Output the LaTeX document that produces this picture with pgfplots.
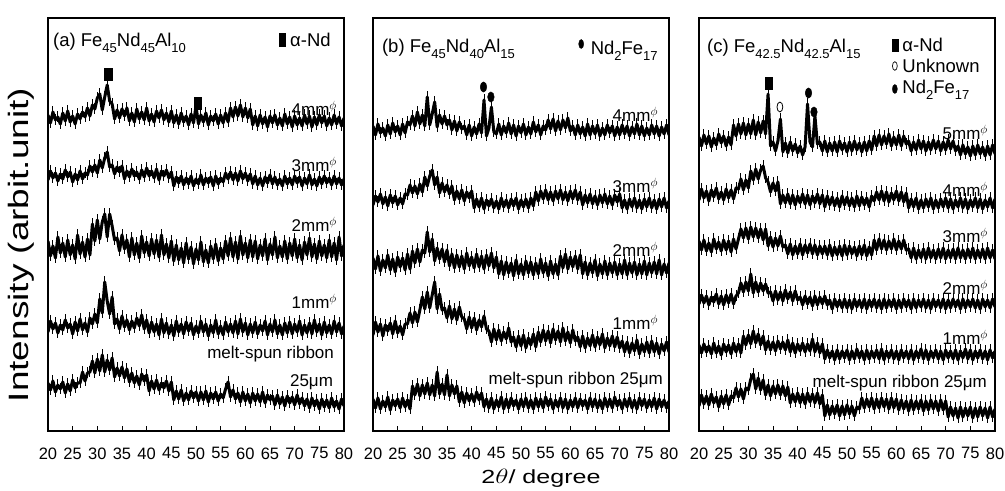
\documentclass[border=0pt]{standalone}
\usepackage{fontspec}
\setmainfont{Liberation Sans}
\usepackage{graphicx}
\usepackage{pgfplots}
\pgfplotsset{compat=1.18}
\usepackage{pgfplotstable}

% y values are in "pixels above the axis floor"
\pgfplotstableread{
x a4 a3 a2 a1 a0
20.0 317 252 191 100 49
20.5 309 261 176 111 42
21.0 320 254 186 103 51
21.5 312 259 174 109 40
22.0 315 251 195 99 47
22.5 308 258 179 107 43
23.0 319 253 189 102 50
23.5 311 262 175 112 39
24.0 321 255 192 104 48
24.5 310 260 177 108 41
25.0 316 250 187 98 52
25.5 308 258 173 110 44
26.0 318 252 197 101 49
26.5 313 261 178 113 49
27.0 320 253 190 102 60
27.5 315 259 175 109 51
28.0 324 257 193 100 59
28.5 316 266 177 114 60
29.0 327 260 208 108 71
29.5 323 267 191 118 59
30.0 334 259 212 109 73
30.5 338 272 193 133 61
31.0 322 264 210 119 77
31.5 335 274 218 150 60
32.0 347 280 195 131 72
32.5 331 265 218 118 62
33.0 328 267 206 135 74
33.5 313 258 192 108 55
34.0 322 265 194 113 64
34.5 314 260 181 103 56
35.0 323 266 197 116 65
35.5 316 253 183 105 54
36.0 324 261 192 112 63
36.5 311 255 175 102 50
37.0 319 263 194 111 59
37.5 310 256 177 104 49
38.0 323 260 189 114 56
38.5 313 253 174 106 47
39.0 320 262 196 117 58
39.5 312 255 179 103 51
40.0 324 264 190 112 57
40.5 311 256 176 99 41
41.0 318 261 193 110 51
41.5 310 254 178 100 43
42.0 321 263 192 108 52
42.5 314 252 175 97 42
43.0 322 261 197 113 49
43.5 312 256 177 99 44
44.0 319 262 188 109 51
44.5 310 254 174 98 41
45.0 321 260 191 107 50
45.5 309 246 171 96 32
46.0 317 255 187 111 41
46.5 308 249 172 100 33
47.0 319 256 184 108 42
47.5 310 247 169 98 31
48.0 316 254 189 110 39
48.5 307 248 173 101 32
49.0 318 256 185 109 41
49.5 309 246 168 97 34
50.0 326 253 183 106 40
50.5 308 248 172 99 31
51.0 317 257 190 111 40
51.5 310 247 170 100 32
52.0 319 254 182 108 41
52.5 307 249 169 96 30
53.0 316 255 186 107 39
53.5 311 246 173 99 33
54.0 318 256 188 112 40
54.5 308 248 171 98 31
55.0 317 254 184 106 38
55.5 309 250 173 97 34
56.0 319 259 191 110 43
56.5 310 253 176 100 50
57.0 324 260 194 108 35
57.5 315 252 175 99 42
58.0 325 259 190 111 33
58.5 316 251 173 98 39
59.0 327 261 196 113 30
59.5 315 253 177 100 40
60.0 324 259 189 109 31
60.5 314 251 174 97 38
61.0 323 258 192 108 29
61.5 307 248 175 99 39
62.0 316 256 191 110 31
62.5 306 247 173 98 38
63.0 317 254 187 107 30
63.5 308 246 176 101 40
64.0 315 255 193 111 29
64.5 305 249 172 97 37
65.0 316 257 188 108 32
65.5 309 248 177 100 36
66.0 317 255 195 112 27
66.5 307 247 174 98 37
67.0 314 253 186 107 28
67.5 306 246 175 97 35
68.0 318 256 191 109 26
68.5 308 248 173 99 36
69.0 315 254 189 110 29
69.5 305 247 176 98 35
70.0 316 256 193 108 27
70.5 307 249 174 100 37
71.0 314 255 187 111 28
71.5 306 246 172 97 34
72.0 317 254 190 107 26
72.5 308 248 177 99 33
73.0 316 257 194 109 24
73.5 305 247 175 98 34
74.0 315 253 188 112 26
74.5 307 246 173 100 32
75.0 317 255 191 108 23
75.5 309 248 176 97 33
76.0 316 256 187 110 25
76.5 306 249 174 99 32
77.0 314 254 192 107 24
77.5 307 247 175 98 34
78.0 317 256 189 111 25
78.5 308 248 172 100 31
79.0 315 254 195 109 23
79.5 306 247 176 98 33
80.0 314 253 187 106 26
}\tabA

\pgfplotstableread{
x b4 b3 b2 b1 b0
20.0 306 227 174 97 33
20.5 297 236 163 110 24
21.0 308 230 176 100 34
21.5 299 238 161 108 23
22.0 304 228 172 96 31
22.5 296 235 164 107 25
23.0 307 226 177 101 35
23.5 298 237 162 109 22
24.0 309 229 173 98 32
24.5 300 236 160 111 26
25.0 306 227 175 99 33
25.5 297 234 165 106 24
26.0 308 228 174 97 34
26.5 299 238 162 108 25
27.0 310 237 178 108 32
27.5 307 247 163 119 23
28.0 316 239 181 109 46
28.5 306 246 169 120 37
29.0 320 238 183 110 48
29.5 308 248 170 122 36
30.0 317 240 182 135 47
30.5 306 255 179 123 38
31.0 335 246 200 140 49
31.5 307 256 180 124 37
32.0 318 262 193 137 47
32.5 330 247 171 150 36
33.0 305 255 184 123 60
33.5 317 239 173 138 38
34.0 308 249 183 122 48
34.5 316 240 170 124 37
35.0 307 247 182 114 57
35.5 312 238 166 126 36
36.0 302 246 178 113 47
36.5 311 232 164 123 38
37.0 301 241 177 112 46
37.5 310 233 165 125 30
38.0 303 242 176 115 40
38.5 306 231 163 113 29
39.0 297 240 179 103 39
39.5 307 234 166 115 31
40.0 296 241 175 104 38
40.5 305 224 164 114 30
41.0 298 233 178 102 40
41.5 308 225 165 112 32
42.0 299 234 176 105 39
42.5 332 223 163 116 25
43.0 296 232 177 103 33
43.5 304 226 166 101 24
44.0 325 233 179 90 34
44.5 300 224 164 103 23
45.0 298 231 175 92 32
45.5 308 223 158 102 25
46.0 297 234 171 91 35
46.5 306 225 157 100 23
47.0 299 232 170 93 33
47.5 309 224 159 104 24
48.0 298 233 169 90 34
48.5 307 226 156 95 26
49.0 296 234 172 85 32
49.5 306 223 158 96 23
50.0 299 232 168 86 33
50.5 308 225 157 97 25
51.0 297 233 171 84 34
51.5 305 224 159 94 24
52.0 298 234 170 87 32
52.5 310 226 157 98 23
53.0 300 240 169 85 34
53.5 307 231 158 100 25
54.0 297 241 173 90 33
54.5 306 233 159 102 24
55.0 302 242 169 91 35
55.5 312 232 156 101 26
56.0 303 240 171 89 33
56.5 313 231 158 103 23
57.0 301 241 168 92 32
57.5 311 233 157 101 25
58.0 302 242 176 90 34
58.5 312 232 164 104 24
59.0 304 240 178 91 33
59.5 314 231 163 100 23
60.0 301 241 175 89 32
60.5 306 233 165 102 25
61.0 297 242 176 91 34
61.5 307 232 163 95 24
62.0 298 240 177 85 33
62.5 305 227 158 96 26
63.0 296 237 170 84 32
63.5 308 229 157 94 23
64.0 297 238 169 86 34
64.5 306 228 159 97 25
65.0 298 236 172 85 33
65.5 307 227 156 95 24
66.0 296 237 168 87 32
66.5 304 229 158 98 23
67.0 297 238 171 84 34
67.5 307 228 157 94 25
68.0 299 236 169 86 33
68.5 306 227 159 96 24
69.0 296 237 170 85 35
69.5 305 230 157 95 26
70.0 297 238 168 84 32
70.5 307 224 158 91 23
71.0 298 232 172 80 33
71.5 306 223 157 90 25
72.0 296 233 169 79 34
72.5 305 225 159 89 24
73.0 298 234 170 81 32
73.5 308 224 157 92 23
74.0 297 232 168 78 34
74.5 306 223 158 88 26
75.0 296 233 171 80 33
75.5 304 225 157 90 24
76.0 297 234 169 79 32
76.5 307 224 159 91 25
77.0 298 232 170 80 34
77.5 306 223 158 89 23
78.0 296 233 172 78 33
78.5 305 225 157 88 25
79.0 298 234 168 81 32
79.5 307 224 159 90 24
80.0 297 231 169 80 31
}\tabB

\pgfplotstableread{
x c5 c4 c3 c2 c1 c0
20.0 295 232 191 128 87 26
20.5 286 243 182 137 79 37
21.0 297 234 192 129 88 28
21.5 288 241 181 136 80 36
22.0 296 231 189 127 86 27
22.5 285 242 180 135 78 38
23.0 294 235 193 130 89 29
23.5 287 244 183 138 79 35
24.0 298 233 190 128 86 25
24.5 289 240 181 136 77 36
25.0 296 232 192 127 88 28
25.5 286 243 182 137 80 37
26.0 295 234 191 129 87 27
26.5 287 242 180 138 78 36
27.0 307 233 193 128 89 34
27.5 296 244 183 136 80 44
28.0 308 243 193 139 88 35
28.5 298 253 203 149 79 43
29.0 309 242 194 140 96 33
29.5 297 252 204 150 87 44
30.0 308 244 193 141 97 42
30.5 298 261 205 158 88 53
31.0 312 252 195 139 101 58
31.5 297 263 204 150 89 43
32.0 310 253 194 140 98 54
32.5 299 262 203 149 87 42
33.0 311 266 192 141 96 52
33.5 298 254 203 148 82 37
34.0 338 250 186 139 91 47
34.5 286 240 195 140 82 36
35.0 290 249 185 131 90 46
35.5 281 241 194 141 81 38
36.0 291 250 186 132 91 47
36.5 313 228 196 140 83 37
37.0 280 237 185 131 90 46
37.5 289 229 187 142 82 36
38.0 279 238 178 133 92 45
38.5 290 228 188 140 80 29
39.0 281 237 177 131 89 38
39.5 288 227 186 141 79 30
40.0 279 236 178 132 88 39
40.5 286 229 188 135 81 29
41.0 277 238 177 127 89 38
41.5 285 228 187 136 80 28
42.0 328 237 179 128 88 39
42.5 290 227 188 135 81 30
43.0 285 236 178 126 93 38
43.5 316 229 187 136 80 29
44.0 288 238 177 127 89 39
44.5 290 228 186 135 79 28
45.0 281 237 178 128 88 37
45.5 291 225 186 136 73 16
46.0 280 236 177 127 82 27
46.5 289 227 187 132 74 17
47.0 281 235 176 123 81 26
47.5 290 226 185 133 72 18
48.0 280 234 177 125 82 27
48.5 291 225 186 132 73 16
49.0 282 236 176 124 81 26
49.5 289 227 187 133 74 17
50.0 280 235 177 124 82 27
50.5 290 226 186 132 72 18
51.0 281 234 178 123 81 26
51.5 291 225 185 133 73 16
52.0 282 236 176 125 83 25
52.5 289 226 186 132 74 23
53.0 280 235 177 124 81 34
53.5 290 227 187 133 72 24
54.0 281 234 176 123 82 33
54.5 291 225 185 132 73 25
55.0 282 236 177 125 81 34
55.5 296 231 192 133 74 23
56.0 286 240 182 124 82 33
56.5 297 232 193 132 73 24
57.0 287 241 183 123 83 34
57.5 296 231 192 133 72 25
58.0 288 240 182 124 81 33
58.5 298 230 191 132 74 23
59.0 286 239 183 125 82 34
59.5 295 232 193 133 73 24
60.0 287 241 182 123 81 33
60.5 297 231 191 132 72 22
61.0 286 240 183 124 82 32
61.5 296 230 192 133 74 23
62.0 288 239 182 125 81 31
62.5 291 224 183 132 73 21
63.0 281 233 174 123 82 32
63.5 290 225 184 133 72 22
64.0 282 234 173 124 81 31
64.5 292 223 182 132 74 23
65.0 283 232 174 125 83 32
65.5 291 224 183 133 73 21
66.0 281 233 173 124 82 31
66.5 290 225 184 132 72 22
67.0 282 234 174 123 81 32
67.5 292 223 182 133 74 23
68.0 283 232 173 125 82 31
68.5 291 224 183 132 73 21
69.0 281 233 174 124 81 32
69.5 290 225 184 133 72 22
70.0 282 234 173 123 82 31
70.5 292 224 182 132 74 15
71.0 283 233 174 124 81 25
71.5 291 223 183 133 73 16
72.0 281 232 173 125 82 24
72.5 286 225 184 132 72 14
73.0 277 234 174 123 81 25
73.5 287 224 182 133 74 15
74.0 278 233 173 124 83 24
74.5 285 223 183 132 73 16
75.0 276 232 174 125 82 25
75.5 286 225 184 133 72 14
76.0 277 234 173 124 81 24
76.5 287 224 182 132 74 15
77.0 278 233 174 123 82 25
77.5 285 223 183 133 73 16
78.0 276 232 173 125 81 24
78.5 286 225 184 132 72 14
79.0 277 234 174 124 82 25
79.5 287 224 182 133 74 15
80.0 278 233 173 125 81 23
}\tabC

\newcommand{\sub}[1]{\raisebox{-0.3em}{\fontsize{13bp}{13bp}\selectfont #1}}
\newcommand{\phis}{$^{\phi}$}

\pgfplotsset{
  panel/.style={
    scale only axis, width=296bp, height=413bp,
    xmin=20, xmax=80, ymin=1, ymax=414,
    xtick={20,25,...,80}, ytick=\empty,
    xtick pos=left, tick align=inside,
    major tick length=5bp,
    axis line style={line width=1.1bp},
    tick style={line width=0.9bp, black},
    xticklabel style={font=\fontsize{16.5bp}{18bp}\selectfont, yshift=-13bp},
    /pgf/number format/assume math mode=true,
  },
  % heavy zigzag with thin vertical whiskers at each point: reads as a noisy dark band
  xrd/.style={black, line width=3bp, line join=round, mark=|, mark size=5.5bp,
    mark options={line width=0.9bp}},
  sqm/.style={black, only marks, mark=square*, mark options={fill=black, yscale=1.7}, mark size=3.6bp},
  dotm/.style={black, only marks, mark=*, mark options={fill=black, yscale=1.55}, mark size=3.3bp},
  ringm/.style={black, only marks, mark=o, mark options={yscale=1.7, line width=0.8bp}, mark size=2.9bp},
}
\tikzset{
  lbl/.style={font=\fontsize{17bp}{19bp}\selectfont, inner sep=0pt},
  ttl/.style={font=\fontsize{18.5bp}{20bp}\selectfont, inner sep=0pt},
}

\begin{document}
\begin{tikzpicture}
\useasboundingbox (0,0) rectangle (1005bp,491bp);

% (a)
\begin{axis}[panel, at={(48bp,60bp)}, anchor=south west]
\addplot[xrd] table[x=x, y=a4] {\tabA};
\addplot[xrd] table[x=x, y=a3] {\tabA};
\addplot[xrd] table[x=x, y=a2] {\tabA};
\addplot[xrd] table[x=x, y=a1] {\tabA};
\addplot[xrd] table[x=x, y=a0] {\tabA};
\addplot[sqm] coordinates {(32.2,358) (50.3,329)};
\addplot[sqm, mark size=2.65bp, mark options={fill=black, yscale=2.45}] coordinates {(67.5,392)};
\node[ttl, anchor=base west] at (axis cs:21,385) {(a) Fe\sub{45}Nd\sub{45}Al\sub{10}};
\node[ttl, anchor=base west] at (axis cs:69.05,385) {α-Nd};
\node[lbl, anchor=base east] at (axis cs:78.6,316) {4mm\phis};
\node[lbl, anchor=base east] at (axis cs:78.6,260) {3mm\phis};
\node[lbl, anchor=base east] at (axis cs:78.6,200) {2mm\phis};
\node[lbl, anchor=base east] at (axis cs:78.6,123) {1mm\phis};
\node[lbl, anchor=base east] at (axis cs:78.0,73) {melt-spun ribbon};
\node[lbl, anchor=base east] at (axis cs:77.8,45) {25μm};
\end{axis}

% (b)
\begin{axis}[panel, at={(373bp,60bp)}, anchor=south west]
\addplot[xrd] table[x=x, y=b4] {\tabB};
\addplot[xrd] table[x=x, y=b3] {\tabB};
\addplot[xrd] table[x=x, y=b2] {\tabB};
\addplot[xrd] table[x=x, y=b1] {\tabB};
\addplot[xrd] table[x=x, y=b0] {\tabB};
\addplot[dotm] coordinates {(42.4,345) (43.9,335)};
\addplot[dotm, mark size=2.5bp, mark options={fill=black, yscale=1.8}] coordinates {(62.2,388)};
\node[ttl, anchor=base west] at (axis cs:21.8,379) {(b) Fe\sub{45}Nd\sub{40}Al\sub{15}};
\node[ttl, anchor=base west] at (axis cs:64.1,377) {Nd\sub{2}Fe\sub{17}};
\node[lbl, anchor=base east] at (axis cs:77.8,310) {4mm\phis};
\node[lbl, anchor=base east] at (axis cs:77.8,239) {3mm\phis};
\node[lbl, anchor=base east] at (axis cs:77.8,175) {2mm\phis};
\node[lbl, anchor=base east] at (axis cs:77.8,102) {1mm\phis};
\node[lbl, anchor=base east] at (axis cs:78.8,47) {melt-spun ribbon 25μm};
\end{axis}

% (c)
\begin{axis}[panel, at={(699bp,60bp)}, anchor=south west]
\addplot[xrd] table[x=x, y=c5] {\tabC};
\addplot[xrd] table[x=x, y=c4] {\tabC};
\addplot[xrd] table[x=x, y=c3] {\tabC};
\addplot[xrd] table[x=x, y=c2] {\tabC};
\addplot[xrd] table[x=x, y=c1] {\tabC};
\addplot[xrd] table[x=x, y=c0] {\tabC};
\addplot[sqm] coordinates {(34.2,349)};
\addplot[ringm] coordinates {(36.4,325)};
\addplot[dotm] coordinates {(42.2,339) (43.3,320)};
\addplot[sqm, mark size=3bp, mark options={fill=black, yscale=2}] coordinates {(59.7,387)};
\addplot[ringm, mark size=2.4bp, mark options={yscale=1.8, line width=0.7bp}] coordinates {(59.7,366)};
\addplot[dotm, mark size=2.5bp, mark options={fill=black, yscale=1.8}] coordinates {(59.7,343)};
\node[ttl, anchor=base west] at (axis cs:21.6,379) {(c) Fe\sub{42.5}Nd\sub{42.5}Al\sub{15}};
\node[ttl, anchor=base west] at (axis cs:61.2,380.5) {α-Nd};
\node[ttl, anchor=base west] at (axis cs:61.2,359.5) {Unknown};
\node[ttl, anchor=base west] at (axis cs:61.2,338.5) {Nd\sub{2}Fe\sub{17}};
\node[lbl, anchor=base east] at (axis cs:78.6,292) {5mm\phis};
\node[lbl, anchor=base east] at (axis cs:78.6,235) {4mm\phis};
\node[lbl, anchor=base east] at (axis cs:78.6,189) {3mm\phis};
\node[lbl, anchor=base east] at (axis cs:78.6,137) {2mm\phis};
\node[lbl, anchor=base east] at (axis cs:78.6,87) {1mm\phis};
\node[lbl, anchor=base east] at (axis cs:78.4,44) {melt-spun ribbon 25μm};
\end{axis}

\node[rotate=90, font=\fontsize{28bp}{30bp}\selectfont] at (21bp,246bp) {\scalebox{1.32}[1]{Intensity (arbit.unit)}};
\node[anchor=base, font=\fontsize{19bp}{21bp}\selectfont] at (541bp,8bp) {\scalebox{1.32}[1]{2$\theta$/ degree}};
\end{tikzpicture}
\end{document}
